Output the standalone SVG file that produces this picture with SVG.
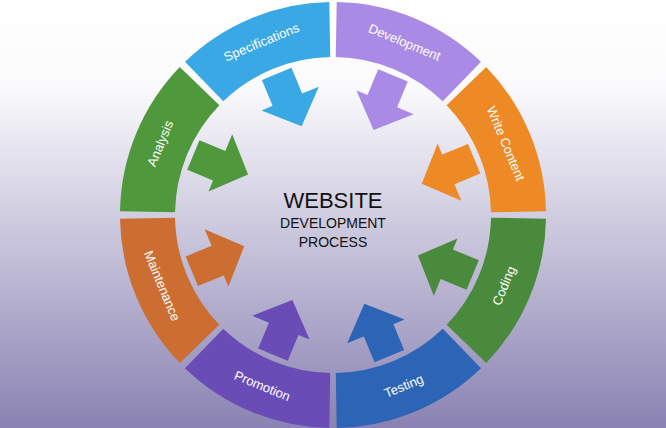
<svg xmlns="http://www.w3.org/2000/svg" xmlns:xlink="http://www.w3.org/1999/xlink" width="666" height="428" viewBox="0 0 666 428">
<defs>
<linearGradient id="bg" x1="0" y1="0" x2="0" y2="1">
<stop offset="0" stop-color="#ffffff"/><stop offset="0.2" stop-color="#fbfbfd"/><stop offset="1" stop-color="#8a82b2"/>
</linearGradient>
<g id="seg"><path d="M-78.1,-198.2 A213,213 0 0 1 78.1,-198.2 L57.9,-147 A158,158 0 0 0 -57.9,-147 Z"/><polygon points="-14,-152 18,-152 18,-124 36,-124 5,-94 -26,-124 -14,-124"/></g>
</defs>
<style>.lbl{font-family:"Liberation Sans",Arial,sans-serif;font-size:13px;fill:#fff;text-anchor:middle;dominant-baseline:middle}.c{font-family:"Liberation Sans",Arial,sans-serif;fill:#111;text-anchor:middle}</style>
<rect width="666" height="428" fill="url(#bg)"/>
<g transform="translate(333,215)">
<g id="specifications"><use xlink:href="#seg" fill="#3aa8e4" transform="rotate(-22.5)"/><text class="lbl" transform="rotate(-22.5) translate(0,-186)">Specifications</text></g>
<g id="development"><use xlink:href="#seg" fill="#a98be6" transform="rotate(22.5)"/><text class="lbl" transform="rotate(22.5) translate(0,-186)">Development</text></g>
<g id="write-content"><use xlink:href="#seg" fill="#ee8a26" transform="rotate(67.5)"/><text class="lbl" transform="rotate(67.5) translate(0,-186)">Write Content</text></g>
<g id="coding"><use xlink:href="#seg" fill="#4a8a3c" transform="rotate(112.5)"/><text class="lbl" transform="rotate(112.5) translate(0,-186) rotate(180)">Coding</text></g>
<g id="testing"><use xlink:href="#seg" fill="#2c64b6" transform="rotate(157.5)"/><text class="lbl" transform="rotate(157.5) translate(0,-186) rotate(180)">Testing</text></g>
<g id="promotion"><use xlink:href="#seg" fill="#6a4cb6" transform="rotate(202.5)"/><text class="lbl" transform="rotate(202.5) translate(0,-186) rotate(180)">Promotion</text></g>
<g id="maintenance"><use xlink:href="#seg" fill="#cc6e32" transform="rotate(247.5)"/><text class="lbl" transform="rotate(247.5) translate(0,-186) rotate(180)">Maintenance</text></g>
<g id="analysis"><use xlink:href="#seg" fill="#4f983c" transform="rotate(292.5)"/><text class="lbl" transform="rotate(292.5) translate(0,-186)">Analysis</text></g>
</g>
<g id="connectors"/>
<g id="center">
<text class="c" x="333" y="208" font-size="22">WEBSITE</text>
<text class="c" x="333" y="228" font-size="14">DEVELOPMENT</text>
<text class="c" x="333" y="247" font-size="14">PROCESS</text>
</g>
</svg>
